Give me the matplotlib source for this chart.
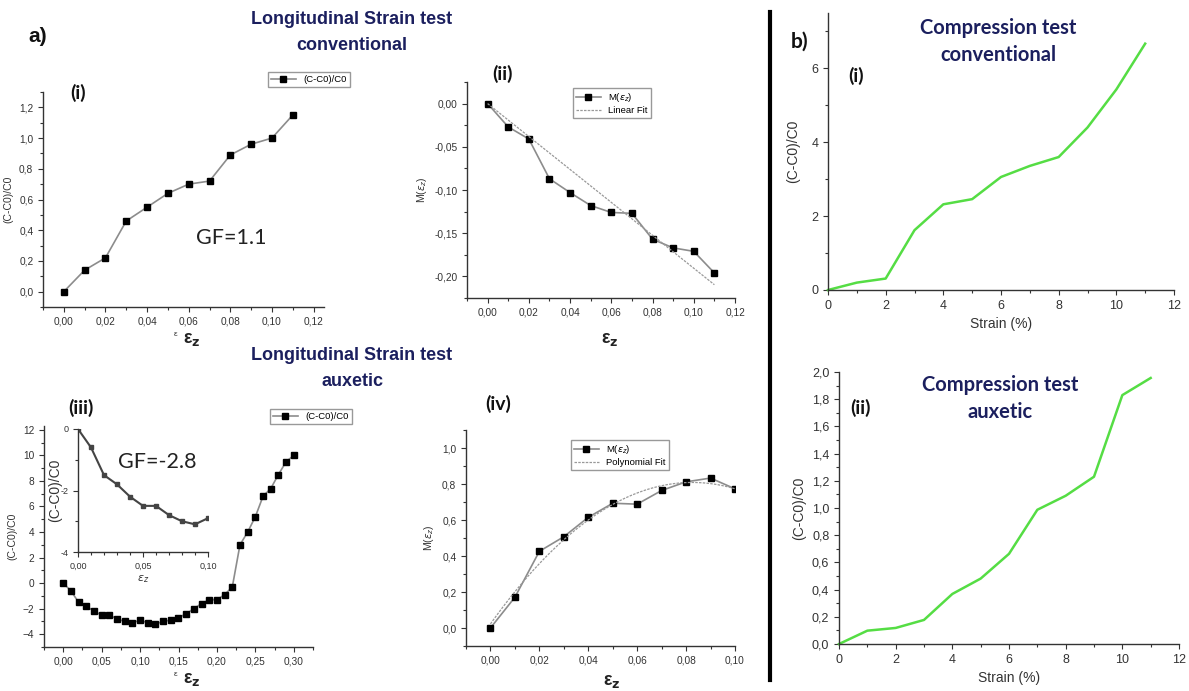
import numpy as np
import matplotlib.pyplot as plt
from matplotlib.ticker import MultipleLocator, FuncFormatter, FixedLocator
from matplotlib.lines import Line2D

plt.rcParams['font.family'] = ['Liberation Sans', 'DejaVu Sans']
plt.rcParams['mathtext.fontset'] = 'dejavusans'

# --- a) (i) longitudinal strain, conventional ---
eps_i = [0.00, 0.01, 0.02, 0.03, 0.04, 0.05, 0.06, 0.07, 0.08, 0.09, 0.10, 0.11]
dc_i = [0.00, 0.14, 0.22, 0.46, 0.55, 0.64, 0.70, 0.72, 0.89, 0.96, 1.00, 1.15]

# --- a) (ii) M(eps_z), conventional ---
m_ii = [0.000, -0.027, -0.041, -0.087, -0.103, -0.118, -0.126, -0.127,
        -0.157, -0.167, -0.171, -0.196]

# --- a) (iii) longitudinal strain, auxetic ---
eps_iii = [0.00, 0.01, 0.02, 0.03, 0.04, 0.05, 0.06, 0.07, 0.08, 0.09, 0.10,
           0.11, 0.12, 0.13, 0.14, 0.15, 0.16, 0.17, 0.18, 0.19, 0.20,
           0.21, 0.22, 0.23, 0.24, 0.25, 0.26, 0.27, 0.28, 0.29, 0.30]
dc_iii = [0.0, -0.6, -1.5, -1.8, -2.2, -2.5, -2.5, -2.8, -3.0, -3.1, -2.9,
          -3.1, -3.2, -3.0, -2.9, -2.7, -2.4, -2.0, -1.6, -1.3, -1.3,
          -0.9, -0.3, 3.0, 4.0, 5.2, 6.8, 7.4, 8.5, 9.5, 10.0]

# --- a) (iv) M(eps_z), auxetic ---
eps_iv = [0.00, 0.01, 0.02, 0.03, 0.04, 0.05, 0.06, 0.07, 0.08, 0.09, 0.10]
m_iv = [0.000, 0.171, 0.426, 0.507, 0.615, 0.693, 0.688, 0.764, 0.812, 0.833, 0.773]

# --- b) compression tests ---
strain_b = [0, 1, 2, 3, 4, 5, 6, 7, 8, 9, 10, 11]
dc_comp_conv = [0.0, 0.20, 0.31, 1.62, 2.32, 2.46, 3.06, 3.36, 3.60, 4.40, 5.43, 6.67]
dc_comp_aux = [0.0, 0.098, 0.118, 0.177, 0.368, 0.481, 0.663, 0.987, 1.09, 1.23, 1.83, 1.956]

W, H = 1189, 691
fig = plt.figure(figsize=(W / 100, H / 100), dpi=100)


def rect(x0, x1, y0, y1):
    # pixel box -> figure fraction
    return [x0 / W, 1 - y1 / H, (x1 - x0) / W, (y1 - y0) / H]


def comma(nd):
    def f(v, p):
        if abs(v) < 1e-9:
            v = 0.0
        return f'{v:.{nd}f}'.replace('.', ',')
    return FuncFormatter(f)


def style(ax, size=7.3):
    ax.spines['top'].set_visible(False)
    ax.spines['right'].set_visible(False)
    for s in ['left', 'bottom']:
        ax.spines[s].set_color('#333333')
        ax.spines[s].set_linewidth(1.0)
    ax.tick_params(which='both', direction='out', colors='#333333',
                   labelsize=size, width=0.8)
    ax.tick_params(which='major', length=3.5)
    ax.tick_params(which='minor', length=2)
    ax.set_facecolor('none')


grey = '#8c8c8c'
mk = dict(marker='s', mfc='k', mec='k', ms=4.5, color=grey, lw=1.2)
leg_kw = dict(fancybox=False, edgecolor='#999999', framealpha=1, fontsize=6.8,
              handlelength=2.6, borderpad=0.35, labelspacing=0.2,
              bbox_transform=fig.transFigure, loc='upper left')
navy = '#1b1f5e'

# ---------- (i) ----------
ax1 = fig.add_axes(rect(43, 324, 92, 307))
style(ax1)
ax1.plot(eps_i, dc_i, label='(C-C0)/C0', **mk)
ax1.set_xlim(-0.01, 0.125)
ax1.set_ylim(-0.1, 1.3)
ax1.xaxis.set_major_locator(MultipleLocator(0.02))
ax1.xaxis.set_minor_locator(MultipleLocator(0.01))
ax1.yaxis.set_major_locator(MultipleLocator(0.2))
ax1.yaxis.set_minor_locator(MultipleLocator(0.1))
ax1.xaxis.set_major_formatter(comma(2))
ax1.yaxis.set_major_formatter(comma(1))
ax1.set_ylabel('(C-C0)/C0', fontsize=7.5, color='#333333')
ax1.legend(bbox_to_anchor=(263 / W, 1 - 67 / H), **leg_kw)
ax1.text(196 / W, 1 - 238 / H, 'GF=1.1', transform=fig.transFigure,
         fontsize=15.5, family='Lato', va='center', color='#222222')

# ---------- (ii) ----------
ax2 = fig.add_axes(rect(467, 735, 82, 298))
style(ax2)
ax2.plot(eps_i, m_ii, label=r'M($\varepsilon_z$)', **mk)
slope = np.sum(np.array(eps_i) * np.array(m_ii)) / np.sum(np.array(eps_i) ** 2)
fit_x = np.array([eps_i[0], eps_i[-1]])
ax2.plot(fit_x, slope * fit_x, color='#999999', lw=0.9, ls=(0, (2, 1)),
         label='Linear Fit')
ax2.set_xlim(-0.01, 0.12)
ax2.set_ylim(-0.225, 0.025)
ax2.xaxis.set_major_locator(MultipleLocator(0.02))
ax2.xaxis.set_minor_locator(MultipleLocator(0.01))
ax2.yaxis.set_major_locator(MultipleLocator(0.05))
ax2.yaxis.set_minor_locator(MultipleLocator(0.025))
ax2.xaxis.set_major_formatter(comma(2))
ax2.yaxis.set_major_formatter(comma(2))
ax2.set_ylabel(r'M($\varepsilon_z$)', fontsize=7.5, color='#333333')
ax2.legend(bbox_to_anchor=(568 / W, 1 - 83 / H), **leg_kw)

# ---------- (iii) ----------
ax3 = fig.add_axes(rect(44, 313, 426, 647))
style(ax3)
ax3.plot(eps_iii, dc_iii, label='(C-C0)/C0', **mk)
ax3.set_xlim(-0.025, 0.325)
ax3.set_ylim(-5, 12.3)
ax3.xaxis.set_major_locator(MultipleLocator(0.05))
ax3.xaxis.set_minor_locator(MultipleLocator(0.025))
ax3.yaxis.set_major_locator(MultipleLocator(2))
ax3.yaxis.set_minor_locator(MultipleLocator(1))
ax3.xaxis.set_major_formatter(comma(2))
ax3.set_ylabel('(C-C0)/C0', fontsize=7.5, color='#333333')
ax3.legend(bbox_to_anchor=(265 / W, 1 - 404 / H), **leg_kw)
ax3.text(118 / W, 1 - 462 / H, 'GF=-2.8', transform=fig.transFigure,
         fontsize=15.5, family='Lato', va='center', color='#222222')

# inset
axin = fig.add_axes(rect(78, 208, 429, 552))
style(axin, size=6.5)
axin.plot(eps_iii[:11], dc_iii[:11], color='#444444', lw=1.5, marker='s',
          ms=2.2, mfc='#444444', mec='#444444')
axin.set_xlim(0, 0.10)
axin.set_ylim(-4, 0)
axin.xaxis.set_major_locator(FixedLocator([0, 0.05, 0.10]))
axin.xaxis.set_minor_locator(MultipleLocator(0.01))
axin.yaxis.set_major_locator(FixedLocator([-4, -2, 0]))
axin.yaxis.set_minor_locator(MultipleLocator(1))
axin.xaxis.set_major_formatter(comma(2))
axin.yaxis.set_major_formatter(comma(0))
axin.set_ylabel('(C-C0)/C0', fontsize=10, color='#333333', labelpad=-1)
axin.set_xlabel(r'$\varepsilon_z$', fontsize=8, color='#333333', labelpad=2)

# ---------- (iv) ----------
ax4 = fig.add_axes(rect(466, 735, 430, 646))
style(ax4)
ax4.plot(eps_iv, m_iv, label=r'M($\varepsilon_z$)', **mk)
coef = np.polyfit(eps_iv, m_iv, 2)
xs = np.linspace(eps_iv[0], eps_iv[-1], 100)
ax4.plot(xs, np.polyval(coef, xs), color='#999999', lw=0.9, ls=(0, (2, 1)),
         label='Polynomial Fit')
ax4.set_xlim(-0.01, 0.10)
ax4.set_ylim(-0.1, 1.1)
ax4.xaxis.set_major_locator(MultipleLocator(0.02))
ax4.xaxis.set_minor_locator(MultipleLocator(0.01))
ax4.yaxis.set_major_locator(MultipleLocator(0.2))
ax4.yaxis.set_minor_locator(MultipleLocator(0.1))
ax4.xaxis.set_major_formatter(comma(2))
ax4.yaxis.set_major_formatter(comma(1))
ax4.set_ylabel(r'M($\varepsilon_z$)', fontsize=7.5, color='#333333')
ax4.legend(bbox_to_anchor=(566 / W, 1 - 435 / H), **leg_kw)

# x labels of the a) panels
for x_small, x_big, y in [(176, 192, 340), (None, 610, 340),
                          (176, 192, 680), (None, 612, 682)]:
    if x_small is not None:
        fig.text(x_small / W, 1 - (y - 5) / H, 'ε', fontsize=6, color='#333333',
                 ha='center', va='center')
    fig.text(x_big / W, 1 - y / H, r'ε$_\mathbf{z}$', fontsize=13,
             fontweight='bold', ha='center', va='center', color='#222222')

# ---------- b) (i) ----------
green = '#55dd44'
ax5 = fig.add_axes(rect(828, 1174, 13, 290))
style(ax5, size=9)
ax5.plot(strain_b, dc_comp_conv, color=green, lw=1.8, clip_on=False)
ax5.set_xlim(0, 12)
ax5.set_ylim(0, 7.5)
ax5.xaxis.set_major_locator(MultipleLocator(2))
ax5.xaxis.set_minor_locator(MultipleLocator(1))
ax5.yaxis.set_major_locator(MultipleLocator(2))
ax5.yaxis.set_minor_locator(MultipleLocator(1))
ax5.set_xlabel('Strain (%)', fontsize=10, color='#333333', labelpad=4)
ax5.set_ylabel('(C-C0)/C0', fontsize=10, color='#333333', labelpad=8)

# ---------- b) (ii) ----------
ax6 = fig.add_axes(rect(839, 1179, 372, 644))
style(ax6, size=9)
ax6.plot(strain_b, dc_comp_aux, color=green, lw=1.8, clip_on=False)
ax6.set_xlim(0, 12)
ax6.set_ylim(0, 2.0)
ax6.xaxis.set_major_locator(MultipleLocator(2))
ax6.xaxis.set_minor_locator(MultipleLocator(1))
ax6.yaxis.set_major_locator(MultipleLocator(0.2))
ax6.yaxis.set_minor_locator(MultipleLocator(0.1))
ax6.yaxis.set_major_formatter(comma(1))
ax6.set_xlabel('Strain (%)', fontsize=10, color='#333333', labelpad=4)
ax6.set_ylabel('(C-C0)/C0', fontsize=10, color='#333333', labelpad=4)

# ---------- titles and panel tags ----------
ttl = dict(ha='center', va='center', fontsize=13, fontweight='bold', color=navy)
fig.text(352 / W, 1 - 19 / H, 'Longitudinal Strain test', **ttl)
fig.text(352 / W, 1 - 46 / H, 'conventional', **ttl)
fig.text(352 / W, 1 - 355 / H, 'Longitudinal Strain test', **ttl)
fig.text(352 / W, 1 - 381 / H, 'auxetic', **ttl)

ctl = dict(ha='center', va='center', fontsize=14.5, fontweight='bold',
           color=navy, family='Lato')
fig.text(998 / W, 1 - 28 / H, 'Compression test', **ctl)
fig.text(998 / W, 1 - 55 / H, 'conventional', **ctl)
fig.text(1000 / W, 1 - 385 / H, 'Compression test', **ctl)
fig.text(1000 / W, 1 - 412 / H, 'auxetic', **ctl)

fig.text(38 / W, 1 - 37 / H, 'a)', ha='center', va='center', fontsize=15,
         fontweight='bold', color='#111111')
fig.text(800 / W, 1 - 42 / H, 'b)', ha='center', va='center', fontsize=15,
         fontweight='bold', family='Lato', color='#111111')

tag = dict(fontsize=14, fontweight='bold', family='Lato', va='center',
           color='#111111')
fig.text(70 / W, 1 - 93 / H, '(i)', **tag)
fig.text(492 / W, 1 - 74 / H, '(ii)', **tag)
fig.text(68 / W, 1 - 408 / H, '(iii)', **tag)
fig.text(485 / W, 1 - 404 / H, '(iv)', **tag)
fig.text(848 / W, 1 - 76 / H, '(i)', **tag)
fig.text(850 / W, 1 - 408 / H, '(ii)', **tag)

# separator between a) and b)
fig.add_artist(Line2D([770 / W, 770 / W], [1 - 12 / H, 1 - 680 / H],
                      transform=fig.transFigure, color='k', lw=3))

fig.savefig('out.png', dpi=100)
